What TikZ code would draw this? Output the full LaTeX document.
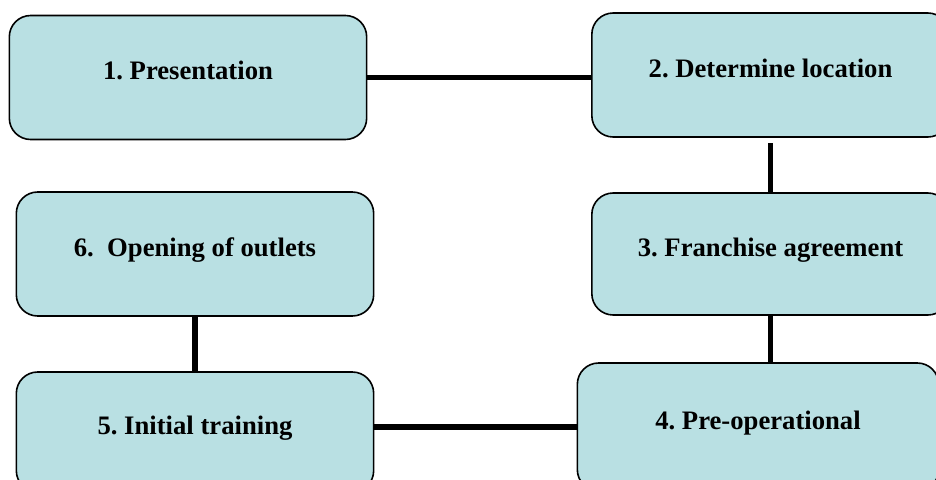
\documentclass[tikz,border=0pt]{standalone}
\usepackage{fontspec}
\setmainfont{Liberation Serif}
\usetikzlibrary{calc}
\frenchspacing
\definecolor{stagefill}{RGB}{185,224,227}
\tikzset{
  stage/.style={draw,line width=1.2pt,fill=stagefill,rounded corners=16pt,minimum width=268pt,minimum height=93pt,text height=15.5pt,text depth=12.5pt,font=\fontsize{20}{24}\selectfont\bfseries},
  link/.style={line width=3.8pt}
}
\begin{document}
\begin{tikzpicture}[x=0.75pt,y=-0.75pt]
      \useasboundingbox (0,0) rectangle (936,479);
      \node[stage] (presentation) at (188,77.5) {1. Presentation};
      \node[stage] (location) at (770.5,75) {2. Determine location};
      \node[stage,minimum height=91.5pt] (agreement) at (770.5,254) {3. Franchise agreement};
      \node[stage,minimum width=271pt,minimum height=96pt] (preop) at (758,427) {4. Pre-operational};
      \node[stage,minimum height=90pt] (training) at (195,432) {5. Initial training};
      \node[stage] (opening) at (195,254) {6.\ \ Opening of outlets};

      \draw[link] (presentation.east) -- (presentation.east -| location.west);
      \draw[link,shorten <=4pt] (location.south) -- (agreement.north);
      \draw[link] (agreement.south) -- (agreement.south |- preop.north);
      \draw[link] (preop.west) -- (preop.west -| training.east);
      \draw[link] (opening.south) -- (opening.south |- training.north);
    \end{tikzpicture}
\end{document}
